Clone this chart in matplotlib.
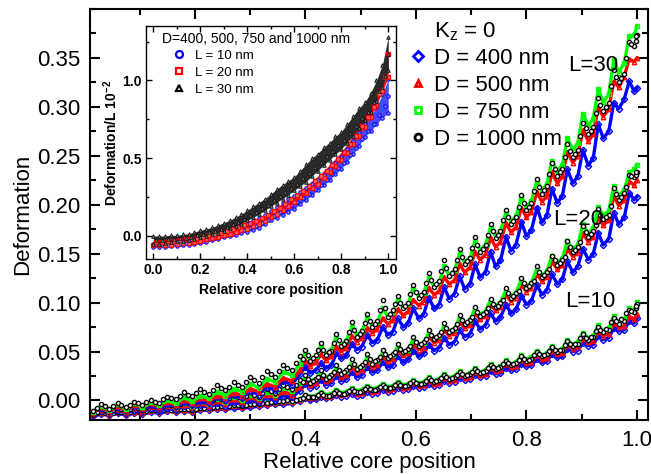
'''
    Deformation against relative core position, with the scaled curves as inset
'''
import matplotlib
matplotlib.use('Agg')
import matplotlib.pyplot as plt
from matplotlib.lines import Line2D
from matplotlib.ticker import MultipleLocator

plt.rcParams['font.family'] = ['Liberation Sans', 'DejaVu Sans']
plt.rcParams['mathtext.fontset'] = 'custom'
plt.rcParams['mathtext.rm'] = 'Liberation Sans'
plt.rcParams['mathtext.bf'] = 'Liberation Sans:bold'
plt.rcParams['mathtext.default'] = 'regular'

position = [0.015, 0.03, 0.045, 0.06, 0.075, 0.09, 0.105, 0.12, 0.135, 0.15, 0.165, 0.18, 0.195,
            0.21, 0.225, 0.24, 0.255, 0.27, 0.285, 0.30, 0.315, 0.33, 0.345, 0.36, 0.375, 0.39,
            0.400, 0.409, 0.419, 0.428, 0.437, 0.447, 0.456, 0.465, 0.474, 0.484, 0.493, 0.502,
            0.512, 0.521, 0.530, 0.540, 0.549, 0.558, 0.567, 0.577, 0.586, 0.595, 0.605, 0.614,
            0.623, 0.633, 0.642, 0.651, 0.660, 0.670, 0.679, 0.688, 0.698, 0.707, 0.716, 0.726,
            0.735, 0.744, 0.753, 0.763, 0.772, 0.781, 0.791, 0.800, 0.809, 0.819, 0.828, 0.837,
            0.846, 0.856, 0.865, 0.874, 0.884, 0.893, 0.902, 0.912, 0.921, 0.930, 0.939, 0.949,
            0.958, 0.967, 0.977, 0.986, 0.995, 1.0]
# second chain of the D = 1000 nm points
position_mid = [.022, .037, .052, .067, .082, .097, .112, .127, .142, .157, .172, .187, .202,
                .217, .232, .247, .262, .277, .292, .307, .322, .337, .352, .367, .382, .395,
                .404, .414, .423, .432, .442, .451, .460, .470, .479, .488, .498, .507,
                .516, .525, .535, .544, .553, .562, .572, .581, .590, .600, .609, .618,
                .628, .637, .646, .655, .665, .674, .683, .693, .702, .711, .721, .730,
                .739, .748, .758, .767, .776, .786, .795, .804, .814, .823, .832, .841,
                .851, .860, .869, .879, .888, .897, .907, .916, .925, .934, .944, .953,
                .962, .972, .981, .990, .998, .999]

# L = 30
d400_l30 = [-.012, -.008, -.011, -.007, -.010, -.006, -.009, -.005, -.008, -.004, -.006, -.002, -.005,
            -.001, -.003, .003, .000, .006, .002, .010, .006, .014, .011, .020, .016, .027,
            .034, .028, .031, .038, .033, .036, .048, .043, .046, .058, .052, .055,
            .067, .059, .062, .075, .067, .070, .084, .075, .079, .094, .084, .088,
            .105, .094, .098, .116, .104, .109, .127, .114, .119, .139, .126, .131,
            .152, .137, .143, .167, .153, .159, .182, .168, .174, .197, .182, .189,
            .216, .202, .209, .236, .222, .229, .256, .240, .248, .282, .268, .275,
            .304, .298, .308, .326, .316, .319]
d500_l30 = [-.013, -.007, -.011, -.006, -.010, -.005, -.008, -.003, -.007, -.002, -.005, .000, -.003,
            .002, -.001, .005, .002, .008, .005, .012, .009, .017, .014, .023, .020, .031,
            .041, .035, .039, .047, .041, .045, .055, .050, .054, .066, .060, .064,
            .074, .069, .073, .084, .078, .082, .093, .087, .091, .103, .097, .101,
            .115, .108, .112, .126, .119, .123, .139, .131, .136, .152, .144, .149,
            .166, .157, .162, .181, .172, .177, .197, .187, .193, .213, .203, .209,
            .233, .222, .229, .254, .243, .250, .276, .265, .272, .300, .290, .298,
            .326, .320, .331, .349, .346, .350]
d750_l30 = [-.012, -.006, -.010, -.004, -.009, -.003, -.007, -.002, -.005, .000, -.003, .003, -.001,
            .005, .002, .009, .005, .012, .009, .017, .013, .022, .019, .029, .026, .037,
            .049, .041, .045, .056, .048, .052, .065, .057, .061, .075, .067, .071,
            .084, .076, .080, .094, .086, .090, .103, .095, .099, .114, .106, .110,
            .125, .117, .121, .137, .128, .133, .150, .141, .146, .163, .154, .159,
            .177, .168, .173, .192, .183, .188, .208, .198, .204, .225, .215, .221,
            .245, .234, .241, .268, .256, .263, .293, .281, .288, .318, .305, .313,
            .348, .335, .345, .372, .373, .383]
d1000_l30 = [-.011, -.004, -.009, -.003, -.007, -.002, -.005, .000, -.003, .004, .001, .009, .005,
             .012, .007, .016, .011, .019, .014, .024, .018, .030, .024, .036, .031, .045,
             .052, .040, .046, .059, .046, .051, .068, .056, .061, .080, .065, .071,
             .088, .075, .081, .103, .085, .092, .107, .094, .100, .118, .105, .111,
             .130, .116, .122, .1435, .127, .134, .155, .139, .146, .167, .152, .159,
             .180, .166, .173, .195, .180, .187, .210, .195, .202, .226, .211, .219,
             .243, .229, .237, .262, .249, .256, .284, .272, .279, .309, .296, .304,
             .338, .325, .334, .366, .362, .373]
d1000_l30_mid = [-.008, -.006, -.006, -.005, -.005, -.003, -.002, -.002, .001, .002, .005, .006, .008,
                 .009, .011, .013, .014, .016, .019, .021, .024, .027, .030, .033, .038, .042,
                 .046, .043, .052, .052, .049, .059, .062, .058, .070, .072, .068, .079,
                 .081, .078, .092, .094, .088, .099, .100, .097, .109, .111, .108, .120,
                 .123, .119, .132, .135, .130, .144, .147, .142, .156, .159, .155, .169,
                 .173, .169, .184, .187, .183, .198, .202, .198, .214, .218, .215, .231,
                 .236, .233, .249, .255, .252, .270, .278, .275, .294, .302, .300, .321,
                 .331, .329, .350, .364, .367, .372]

# L = 20
d400_l20 = [-.015, -.011, -.014, -.010, -.013, -.010, -.012, -.008, -.011, -.008, -.010, -.006, -.008,
            -.005, -.007, -.003, -.006, -.002, -.004, .000, -.002, .003, .000, .005, .003, .010,
            .017, .013, .015, .021, .016, .018, .025, .020, .022, .029, .024, .026,
            .034, .029, .031, .039, .034, .036, .045, .039, .042, .051, .045, .048,
            .057, .051, .054, .064, .057, .060, .072, .065, .068, .081, .073, .077,
            .089, .081, .085, .098, .089, .093, .107, .098, .102, .118, .108, .113,
            .129, .119, .124, .142, .131, .137, .155, .144, .150, .171, .159, .165,
            .192, .180, .187, .212, .205, .208]
d500_l20 = [-.014, -.010, -.013, -.009, -.012, -.008, -.011, -.007, -.009, -.006, -.008, -.005, -.007,
            -.003, -.006, -.001, -.004, .001, -.002, .003, .000, .006, .003, .009, .006, .014,
            .020, .016, .018, .025, .020, .022, .029, .024, .026, .034, .029, .031,
            .039, .034, .036, .045, .040, .042, .051, .046, .048, .057, .052, .054,
            .065, .059, .062, .072, .066, .069, .080, .074, .077, .089, .083, .086,
            .098, .092, .095, .108, .101, .105, .118, .111, .115, .129, .122, .126,
            .142, .134, .138, .155, .147, .151, .171, .162, .167, .188, .179, .184,
            .209, .199, .205, .224, .220, .225]
d750_l20 = [-.013, -.008, -.012, -.007, -.011, -.007, -.009, -.005, -.008, -.004, -.007, -.003, -.006,
            -.001, -.004, .001, -.002, .004, .000, .006, .002, .009, .006, .013, .010, .018,
            .024, .020, .022, .029, .024, .026, .033, .028, .030, .038, .033, .035,
            .043, .038, .040, .049, .044, .046, .055, .050, .052, .062, .057, .059,
            .069, .064, .066, .076, .071, .073, .085, .079, .082, .094, .088, .091,
            .103, .097, .100, .113, .107, .110, .124, .117, .120, .135, .128, .132,
            .148, .141, .145, .163, .155, .159, .180, .171, .176, .198, .189, .194,
            .219, .209, .215, .233, .236, .241]
d1000_l20 = [-.014, -.009, -.012, -.008, -.011, -.007, -.010, -.005, -.008, -.004, -.007, -.002, -.005,
             .000, -.003, .003, -.001, .006, .002, .009, .004, .012, .008, .016, .012, .021,
             .026, .018, .022, .031, .022, .026, .036, .027, .031, .042, .032, .036,
             .047, .037, .041, .052, .043, .047, .058, .049, .053, .065, .056, .060,
             .072, .063, .067, .079, .070, .074, .087, .078, .082, .095, .086, .090,
             .104, .095, .100, .115, .105, .110, .125, .115, .120, .137, .126, .131,
             .148, .138, .143, .163, .152, .157, .178, .167, .173, .196, .185, .190,
             .217, .205, .212, .230, .228, .233]
d1000_l20_mid = [-.012, -.010, -.010, -.009, -.009, -.008, -.007, -.006, -.006, -.005, -.004, -.003, -.002,
                 -.001, .000, .001, .002, .004, .005, .006, .008, .010, .012, .014, .016, .019,
                 .022, .020, .024, .026, .024, .029, .031, .029, .034, .037, .034, .039,
                 .042, .040, .044, .047, .045, .050, .053, .051, .056, .060, .058, .063,
                 .067, .065, .070, .074, .072, .078, .082, .080, .085, .090, .088, .094,
                 .099, .097, .103, .110, .107, .112, .120, .117, .122, .131, .128, .134,
                 .143, .140, .147, .157, .154, .162, .172, .170, .179, .190, .187, .199,
                 .211, .208, .218, .229, .230, .233]

# L = 10
d400_l10 = [-.016, -.014, -.015, -.013, -.015, -.013, -.014, -.012, -.013, -.011, -.012, -.011, -.012,
            -.010, -.010, -.009, -.009, -.008, -.008, -.007, -.006, -.005, -.004, -.004, -.003, -.001,
            .002, .000, .001, .004, .002, .003, .006, .004, .005, .007, .005, .006,
            .009, .007, .008, .011, .009, .010, .013, .011, .012, .015, .013, .014,
            .017, .015, .016, .020, .018, .019, .023, .021, .022, .026, .024, .025,
            .030, .027, .028, .033, .031, .032, .037, .035, .036, .042, .039, .040,
            .047, .044, .045, .053, .050, .051, .059, .056, .057, .066, .062, .064,
            .074, .071, .072, .081, .079, .084]
d500_l10 = [-.015, -.013, -.015, -.012, -.014, -.012, -.013, -.011, -.012, -.010, -.011, -.010, -.011,
            -.009, -.009, -.008, -.008, -.006, -.007, -.005, -.005, -.004, -.003, -.002, -.002, .000,
            .004, .002, .003, .006, .004, .005, .008, .006, .007, .010, .007, .008,
            .012, .009, .010, .014, .011, .012, .016, .013, .014, .018, .015, .016,
            .020, .017, .018, .023, .020, .021, .026, .023, .024, .029, .026, .027,
            .033, .030, .031, .037, .034, .035, .041, .038, .039, .046, .042, .043,
            .051, .047, .048, .057, .053, .055, .063, .060, .061, .071, .066, .068,
            .079, .075, .076, .086, .083, .088]
d750_l10 = [-.014, -.012, -.014, -.011, -.013, -.010, -.012, -.010, -.011, -.009, -.010, -.008, -.009,
            -.008, -.008, -.006, -.006, -.005, -.005, -.004, -.004, -.002, -.002, -.001, -.001, .001,
            .006, .004, .005, .009, .006, .007, .011, .008, .009, .013, .010, .011,
            .015, .012, .013, .017, .014, .015, .019, .016, .017, .021, .018, .019,
            .024, .020, .022, .027, .023, .025, .030, .026, .028, .033, .029, .031,
            .037, .033, .035, .041, .037, .039, .046, .042, .044, .051, .046, .048,
            .056, .051, .053, .062, .057, .060, .069, .064, .066, .077, .071, .074,
            .086, .080, .083, .094, .092, .101]
d1000_l10 = [-.015, -.012, -.014, -.012, -.013, -.011, -.012, -.010, -.011, -.009, -.010, -.009, -.010,
             -.008, -.008, -.007, -.007, -.005, -.006, -.004, -.004, -.003, -.002, -.001, -.001, .001,
             .006, .003, .004, .008, .005, .006, .010, .007, .008, .012, .009, .010,
             .014, .011, .012, .016, .013, .014, .018, .015, .016, .020, .017, .018,
             .023, .019, .021, .026, .022, .024, .029, .025, .027, .032, .028, .030,
             .036, .032, .034, .040, .036, .038, .045, .040, .042, .050, .045, .047,
             .055, .050, .052, .061, .056, .058, .068, .062, .065, .075, .070, .072,
             .084, .078, .081, .092, .090, .099]
d1000_l10_mid = [-.013, -.013, -.013, -.012, -.012, -.011, -.011, -.010, -.010, -.010, -.009, -.009, -.009,
                 -.008, -.007, -.006, -.006, -.005, -.005, -.004, -.003, -.002, -.001, .000, .000, .002,
                 .004, .004, .006, .006, .005, .008, .008, .007, .010, .010, .009, .012,
                 .012, .011, .014, .014, .013, .016, .016, .015, .018, .018, .017, .020,
                 .021, .020, .023, .024, .023, .026, .027, .026, .029, .030, .029, .033,
                 .034, .033, .037, .038, .037, .041, .042, .041, .046, .047, .046, .051,
                 .052, .052, .057, .058, .058, .064, .064, .065, .071, .072, .073, .080,
                 .081, .083, .089, .091, .094, .097]

# inset, scaled values
inset_x = [0.0, .025, .05, .075, .10, .125, .15, .175, .20, .225, .25, .275, .30, .325,
           .35, .375, .40, .425, .45, .475, .50, .525, .55, .575, .60, .625, .65, .675,
           .70, .725, .75, .775, .80, .825, .85, .875, .90, .925, .95, .975, 1.0]
inset_x_mid = [.0125, .0375, .0625, .0875, .1125, .1375, .1625, .1875, .2125, .2375, .2625, .2875, .3125, .3375,
               .3625, .3875, .4125, .4375, .4625, .4875, .5125, .5375, .5625, .5875, .6125, .6375, .6625, .6875,
               .7125, .7375, .7625, .7875, .8125, .8375, .8625, .8875, .9125, .9375, .9625, .9875, 1.0]
l10_low = [-.07, -.07, -.068, -.066, -.063, -.06, -.056, -.05, -.045, -.036, -.028, -.018, -.008, .0,
           .008, .017, .026, .038, .052, .075, .10, .118, .136, .156, .176, .205, .232, .262,
           .294, .327, .362, .398, .433, .478, .525, .58, .637, .675, .72, .76, .79]
l10_mid = [-.06, -.06, -.056, -.054, -.052, -.048, -.043, -.036, -.03, -.022, -.013, -.003, .006, .015,
           .025, .036, .053, .066, .083, .105, .13, .152, .173, .196, .218, .245, .271, .299,
           .327, .361, .396, .434, .472, .519, .568, .622, .678, .722, .775, .835, .90]
l10_top = [-.05, -.05, -.045, -.042, -.04, -.035, -.03, -.022, -.015, -.007, .003, .012, .02, .03,
           .042, .055, .08, .095, .115, .135, .16, .185, .21, .235, .26, .285, .31, .335,
           .36, .395, .43, .47, .51, .56, .61, .665, .72, .77, .83, .91, 1.01]
l20_low = [-.06, -.06, -.058, -.055, -.05, -.048, -.044, -.038, -.03, -.022, -.014, -.005, .005, .015,
           .026, .036, .047, .062, .078, .098, .12, .143, .168, .193, .22, .25, .278, .307,
           .337, .372, .41, .447, .487, .535, .59, .645, .70, .765, .84, .93, 1.02]
l20_top = [-.04, -.04, -.035, -.03, -.028, -.022, -.018, -.012, -.004, .005, .012, .022, .032, .044,
           .056, .068, .082, .098, .116, .136, .158, .182, .208, .235, .262, .292, .322, .354,
           .385, .42, .458, .497, .54, .59, .645, .705, .765, .83, .91, 1.02, 1.17]
l30_low = [-.05, -.05, -.045, -.04, -.035, -.03, -.025, -.018, -.006, .002, .01, .02, .035, .05,
           .065, .08, .10, .12, .14, .165, .19, .215, .24, .265, .294, .32, .35, .385,
           .42, .455, .49, .525, .56, .60, .645, .695, .745, .80, .87, .96, 1.07]
l30_mid = [-.025, -.025, -.022, -.018, -.015, -.01, -.005, .004, .015, .024, .033, .045, .06, .075,
           .092, .11, .132, .155, .178, .202, .23, .258, .285, .31, .337, .37, .405, .442,
           .475, .512, .545, .582, .615, .66, .707, .757, .80, .86, .935, 1.03, 1.17]
l30_top = [.00, .00, .00, .005, .005, .01, .015, .025, .036, .045, .055, .07, .085, .10,
           .12, .14, .165, .19, .215, .24, .27, .30, .33, .355, .38, .42, .46, .50,
           .53, .57, .60, .64, .67, .72, .77, .82, .86, .92, 1.00, 1.10, 1.28]

d_styles = [('D = 400 nm', '#0000ff', 'D'), ('D = 500 nm', '#ff0000', '^'),
            ('D = 750 nm', '#00ff00', 's'), ('D = 1000 nm', 'black', 'o')]
groups = [[d400_l10, d500_l10, d750_l10, d1000_l10, d1000_l10_mid],
          [d400_l20, d500_l20, d750_l20, d1000_l20, d1000_l20_mid],
          [d400_l30, d500_l30, d750_l30, d1000_l30, d1000_l30_mid]]


def style_axes(ax, width, major, minor):
    for spine in ax.spines.values():
        spine.set_linewidth(width)
    ax.tick_params(which='major', direction='in', top=True, right=True, length=major, width=width)
    ax.tick_params(which='minor', direction='in', top=True, right=True, length=minor, width=width)


fig = plt.figure(figsize=(6.51, 4.74), dpi=100)
ax = fig.add_axes([90 / 651, 1 - 420 / 474, 558 / 651, 411 / 474])

for group in groups:
    # the coloured points sit so close that they read as a ribbon
    for values, (label, color, marker) in zip(group[:3], d_styles[:3]):
        ax.plot(position, values, ls='-', lw=2.4, color=color, solid_joinstyle='round',
                marker=marker, ms=3.2, mew=1, mec=color, mfc='none')
    ax.plot(position, group[3], ls='none', marker='o', ms=3, mew=1, mec='black', mfc='white')
    ax.plot(position_mid, group[4], ls='none', marker='o', ms=3, mew=1, mec='black', mfc='white')

ax.set_xlim(0.01, 1.02)
ax.set_ylim(-0.02, 0.40)
ax.xaxis.set_minor_locator(MultipleLocator(0.1))
ax.yaxis.set_minor_locator(MultipleLocator(0.025))
ax.set_yticks([0, .05, .10, .15, .20, .25, .30, .35])
ax.set_yticklabels(['0.00', '0.05', '0.10', '0.15', '0.20', '0.25', '0.30', '0.35'])
ax.set_xticks([.2, .4, .6, .8, 1.0])
ax.set_xticklabels(['0.2', '0.4', '0.6', '0.8', '1.0'])
style_axes(ax, 1.5, 7, 4)
ax.tick_params(labelsize=16, pad=7)
ax.set_xlabel('Relative core position', fontsize=16, labelpad=1.2)
ax.set_ylabel('Deformation', fontsize=16, labelpad=2.4)

handles = [Line2D([], [], ls='none', marker=m, ms=5, mew=2, mec=c, mfc='white', label=l)
           for l, c, m in d_styles]
ax.legend(handles=handles, loc='upper left', bbox_to_anchor=(0.571, 0.906), frameon=False, fontsize=16,
          labelspacing=0.27, handlelength=0.8, handletextpad=0.35, borderpad=0, borderaxespad=0)
fig.text(434 / 651, 1 - 37 / 474, 'K$_{z}$ = 0', fontsize=16, va='baseline')
fig.text(568 / 651, 1 - 71 / 474, 'L=30', fontsize=16, va='baseline')
fig.text(553 / 651, 1 - 225 / 474, 'L=20', fontsize=16, va='baseline')
fig.text(565 / 651, 1 - 307 / 474, 'L=10', fontsize=16, va='baseline')

inset = fig.add_axes([146 / 651, 1 - 259 / 474, 250 / 651, 233 / 474])
inset.fill_between(inset_x, l10_low, l10_top, color='#4848f4', lw=0)
inset.plot(inset_x, l10_low, ls='none', marker='o', ms=2.5, mew=0.7, mec='#0000ff', mfc='#8080ff')
inset.plot(inset_x_mid, l10_mid, ls='none', marker='o', ms=2.5, mew=0.7, mec='#0000ff', mfc='#8080ff')
inset.plot(inset_x, l10_top, ls='none', marker='o', ms=2.5, mew=0.7, mec='#0000ff', mfc='#8080ff')
inset.fill_between(inset_x, l20_low, l20_top, color='#f01818', lw=0)
inset.plot(inset_x, l20_low, ls='none', marker='s', ms=3, mew=0.9, mec='#ff0000', mfc='#ff6060')
inset.plot(inset_x_mid, l20_top, ls='none', marker='s', ms=3, mew=0.9, mec='#ff0000', mfc='#ff6060')
inset.fill_between(inset_x, l30_low, l30_top, color='#2a2a2a', lw=0)
inset.plot(inset_x, l30_low, ls='none', marker='^', ms=2.6, mew=0.6, mec='#111111', mfc='#777777')
inset.plot(inset_x_mid, l30_mid, ls='none', marker='^', ms=2.6, mew=0.6, mec='#111111', mfc='#777777')
inset.plot(inset_x, l30_top, ls='none', marker='^', ms=2.6, mew=0.6, mec='#111111', mfc='#777777')

inset.set_xlim(-0.031, 1.033)
inset.set_ylim(-0.148, 1.35)
inset.xaxis.set_minor_locator(MultipleLocator(0.1))
inset.set_yticks([0, .5, 1.0])
inset.set_yticklabels(['0.0', '0.5', '1.0'])
inset.yaxis.set_minor_locator(MultipleLocator(0.25))
inset.set_xticks([0, .2, .4, .6, .8, 1.0])
inset.set_xticklabels(['0.0', '0.2', '0.4', '0.6', '0.8', '1.0'])
style_axes(inset, 1, 4, 2)
inset.tick_params(labelsize=10, pad=3)
for tick in inset.get_xticklabels() + inset.get_yticklabels():
    tick.set_fontweight('bold')
inset.set_xlabel('Relative core position', fontsize=10, fontweight='bold', labelpad=4)
inset.set_ylabel('Deformation/L 10$^{\\mathbf{-2}}$', fontsize=10, fontweight='bold', labelpad=2)

inset_handles = [Line2D([], [], ls='none', marker='o', ms=5, mew=1.6, mec='#0000ff', mfc='white', label='L = 10 nm'),
                 Line2D([], [], ls='none', marker='s', ms=5, mew=1.6, mec='#ff0000', mfc='white', label='L = 20 nm'),
                 Line2D([], [], ls='none', marker='^', ms=5, mew=1.6, mec='black', mfc='white', label='L = 30 nm')]
inset.legend(handles=inset_handles, loc='upper left', bbox_to_anchor=(0.11, 0.90), frameon=False, fontsize=9.5,
             labelspacing=0.36, handlelength=0.9, handletextpad=0.75, borderpad=0, borderaxespad=0)
inset.text(0.442, 0.945, 'D=400, 500, 750 and 1000 nm', fontsize=10, transform=inset.transAxes,
           ha='center', va='center')

fig.savefig('out.png', dpi=100)
